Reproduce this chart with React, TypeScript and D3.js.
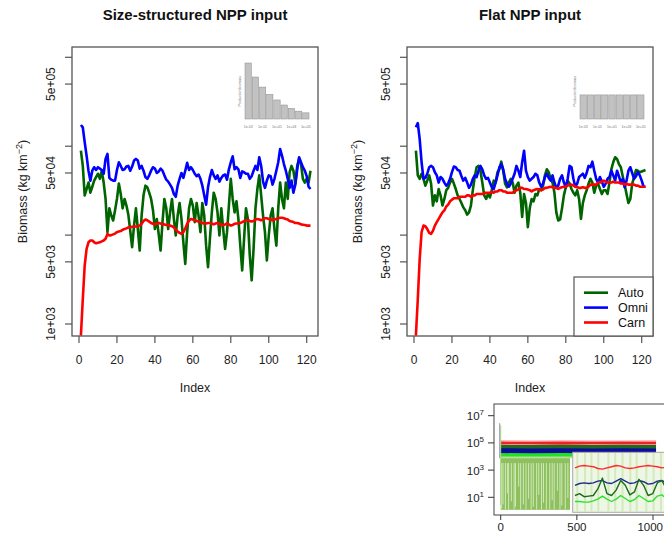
import React from "react";
import * as d3 from "d3";

const FONT = "'Liberation Sans', Arial, Helvetica, sans-serif";

// ---------- main panels ----------
const indexValues = d3.range(1, 123);

const autoSize = [89000, 60000, 28000, 33000, 39000, 30000, 35000, 41000, 45000, 49000,
  43000, 53000, 39000, 25500, 10800, 20000, 16600, 14600, 19000, 25500,
  38000, 29000, 20000, 25500, 21500, 17000, 11200, 7300, 12800, 20000,
  11700, 6700, 16600, 28000, 36000, 34500, 30000, 25500, 19000, 11700,
  15200, 10300, 6700, 14000, 25500, 20000, 11700, 18000, 25500, 15200,
  9900, 16600, 23000, 15200, 8300, 4750, 10800, 20000, 25500, 21500,
  14000, 23000, 16600, 10800, 23000, 16600, 7600, 4350, 9100, 18000,
  30000, 25500, 18000, 9900, 20000, 11700, 7000, 10800, 21500, 43000,
  25500, 18000, 24000, 15200, 7600, 4000, 9100, 20000, 15200, 5900,
  3100, 7000, 20000, 33000, 47000, 28000, 16600, 10800, 5200, 9900,
  16600, 20000, 11700, 7600, 20000, 39000, 25500, 20000, 39000, 25500,
  51000, 60000, 53000, 38000, 60000, 72000, 63000, 43000, 39000, 43000, 39000, 53000];

const omniSize = [173000, 163000, 111000, 78000, 53000, 41000, 53000, 58000, 54000, 58000,
  56000, 54000, 49000, 72000, 82000, 44000, 42000, 41000, 41000, 54000,
  66000, 60000, 54000, 55000, 59000, 60000, 53000, 59000, 69000, 72000,
  69000, 56000, 60000, 53000, 45000, 43000, 47000, 53000, 58000, 56000,
  50000, 52000, 56000, 53000, 47000, 42000, 40000, 37000, 34000, 29000,
  27000, 36000, 43000, 50000, 44000, 53000, 65000, 54000, 58000, 54000,
  49000, 46000, 48000, 43000, 36000, 28000, 22000, 34500, 45000, 54000,
  47000, 43000, 47000, 40000, 44000, 47000, 48000, 42000, 55000, 66000,
  77000, 55000, 58000, 55000, 44000, 52000, 51000, 49000, 49000, 43000,
  46000, 53000, 60000, 54000, 75000, 60000, 40000, 34000, 41000, 47000,
  46000, 37000, 43000, 53000, 66000, 93000, 78000, 63000, 53000, 43000,
  34000, 41000, 30000, 37000, 55000, 75000, 66000, 58000, 53000, 46000, 35000, 33000];

const carnSize = [740, 1900, 4550, 7000, 8300, 8700, 8700, 8300, 8100, 8200,
  8300, 8500, 8700, 9100, 10300, 9900, 10000, 10200, 10400, 10800,
  11000, 11100, 11500, 11700, 11900, 12200, 12300, 12400, 12500, 12500,
  12600, 12800, 13400, 14400, 15000, 14700, 14200, 13700, 13400, 13200,
  13500, 13700, 13500, 13200, 13200, 13000, 13000, 12800, 12600, 12200,
  11500, 11000, 10600, 10300, 10800, 11900, 13400, 14600, 15200, 15000,
  14700, 14400, 14200, 14000, 13700, 13500, 13500, 13700, 13700, 13500,
  13200, 13500, 13700, 13400, 13000, 13000, 13200, 13500, 13200, 12800,
  13000, 13400, 13500, 13500, 13700, 14000, 14400, 14700, 14700, 14400,
  14200, 14400, 15000, 15200, 15000, 14700, 15000, 15500, 15500, 15200,
  15000, 14700, 15000, 15200, 15500, 15700, 15700, 15500, 15200, 15000,
  14400, 14200, 14000, 13700, 13700, 13500, 13200, 13100, 13000, 12800, 12800, 12800];

const autoFlat = [89000, 47000, 43000, 49000, 43000, 36000, 41000, 47000, 38000, 21500,
  28000, 24000, 33000, 28000, 21500, 25500, 32000, 34000, 39000, 43000,
  38000, 33000, 28000, 25500, 23000, 20500, 19000, 17000, 18000, 21500,
  32000, 45000, 58000, 60000, 53000, 39000, 28000, 25500, 29000, 26500,
  32000, 41000, 39000, 51000, 55000, 67000, 53000, 38000, 34500, 39000,
  43000, 39000, 30000, 36000, 39000, 30000, 16000, 29000, 23000, 12300,
  20000, 25500, 24000, 29000, 28000, 33000, 32000, 36000, 47000, 55000,
  51000, 43000, 39000, 30000, 18000, 14600, 15000, 20000, 28000, 34500,
  41000, 38000, 33000, 30000, 28000, 32000, 25500, 15200, 23000, 28000,
  32000, 38000, 43000, 39000, 30000, 36000, 38000, 33000, 29000, 32000,
  32000, 29000, 39000, 55000, 66000, 75000, 72000, 63000, 58000, 46000,
  37000, 29000, 23000, 25500, 38000, 45000, 54000, 53000, 51000, 52000, 53000, 54000];

const omniFlat = [163000, 182000, 120000, 66000, 43000, 44000, 49000, 58000, 60000, 58000,
  51000, 47000, 39000, 45000, 43000, 39000, 36000, 38000, 43000, 51000,
  59000, 58000, 54000, 53000, 46000, 41000, 44000, 39000, 34000, 37000,
  43000, 47000, 45000, 53000, 60000, 55000, 47000, 43000, 44000, 39000,
  34500, 33000, 39000, 47000, 58000, 63000, 55000, 43000, 38000, 35000,
  38000, 43000, 49000, 60000, 53000, 45000, 66000, 89000, 53000, 45000,
  41000, 43000, 45000, 49000, 47000, 39000, 35000, 38000, 45000, 49000,
  44000, 41000, 47000, 39000, 34000, 36000, 43000, 47000, 39000, 34500,
  43000, 60000, 58000, 43000, 35000, 38000, 45000, 47000, 49000, 44000,
  50000, 60000, 58000, 67000, 53000, 43000, 39000, 45000, 40000, 35000,
  38000, 43000, 45000, 53000, 47000, 41000, 53000, 46000, 39000, 43000,
  34500, 41000, 53000, 58000, 50000, 43000, 46000, 51000, 47000, 41000, 35000, 35000];

const carnFlat = [740, 1900, 5400, 10800, 12800, 12600, 11700, 10600, 10300, 11200,
  12800, 14000, 15200, 16600, 18000, 19000, 21000, 22000, 24000, 25000,
  26000, 26000, 26000, 27000, 27000, 27000, 27000, 28000, 28000, 27000,
  28000, 28000, 29000, 29000, 29000, 29000, 29500, 30000, 30000, 30000,
  30500, 30000, 31000, 31000, 32000, 32000, 31000, 31000, 30000, 30000,
  30000, 30000, 31000, 32000, 32500, 34000, 34000, 33000, 33000, 32500,
  32000, 31000, 32000, 32500, 33000, 32500, 32000, 32500, 34000, 34000,
  34500, 35000, 34500, 34000, 34000, 33000, 34000, 34500, 35000, 35000,
  36000, 37000, 37000, 36000, 35000, 34500, 34000, 34000, 34500, 34000,
  34000, 35000, 37000, 37000, 37000, 37000, 39000, 39000, 40000, 41000,
  40000, 39000, 39000, 39000, 40000, 39000, 39000, 39000, 38000, 38000,
  37000, 38000, 37000, 37000, 37000, 37000, 36000, 36000, 35000, 35000, 35000, 35000];

const seriesNames = ["Auto", "Omni", "Carn"];
const seriesColors = ["#006400", "#0000ff", "#ff0000"];
const panelTitles = ["Size-structured NPP input", "Flat NPP input"];
const yTickValues = [1e3, 5e3, 1e4, 5e4, 1e5, 5e5, 1e6];
const yTickLabels = ["1e+03", "5e+03", "", "5e+04", "", "5e+05", ""];
const xTickValues = [0, 20, 40, 60, 80, 100, 120];

// NPP inset bars
const nppSizeStructured = [1.0, 0.75, 0.57, 0.44, 0.34, 0.25, 0.19, 0.14, 0.11];
const nppFlat = [0.43, 0.43, 0.43, 0.43, 0.43, 0.43, 0.43, 0.43, 0.43];
const nppTickLabels = ["1e-03", "1e-01", "1e+01", "1e+03", "1e+05"];

// ---------- long-run inset ----------
const longXTicks = [0, 500, 1000];
const longYTicks = [1e1, 1e3, 1e5, 1e7];
const longYExponents = ["1", "3", "5", "7"];
const bandTime = [0, 200, 400, 600, 800, 1020];
const carnFuzzHigh = [1.55e5, 1.5e5, 1.55e5, 1.5e5, 1.5e5, 1.55e5];
const carnBandHigh = [1.25e5, 1.2e5, 1.25e5, 1.2e5, 1.25e5, 1.2e5];
const carnBandLow = [7.5e4, 7.6e4, 7.4e4, 7.6e4, 7.5e4, 7.6e4];
const autoDarkHigh = [7.2e4, 7.0e4, 7.2e4, 7.1e4, 7.2e4, 7.0e4];
const autoDarkLow = [3.4e4, 3.5e4, 3.3e4, 3.5e4, 3.4e4, 3.5e4];
const omniBandHigh = [4.0e4, 3.9e4, 4.0e4, 3.9e4, 4.0e4, 3.9e4];
const omniBandLow = [1.8e4, 1.7e4, 1.8e4, 1.7e4, 1.8e4, 1.7e4];
const autoBrightHigh = [2.1e4, 2.0e4, 2.1e4, 2.0e4, 2.1e4, 2.0e4];
const autoBrightLow = [1.0e4, 1.0e4, 1.0e4, 1.0e4, 1.0e4, 1.0e4];
const autoPaleHigh = [1.3e4, 1.3e4, 1.3e4, 1.3e4, 1.3e4, 1.3e4];
const autoPaleLow = [7.5e3, 7.5e3, 7.5e3, 7.5e3, 7.5e3, 7.5e3];
const spikeRange = [0, 455];
const spikeTop = 9000;
const spikeFloor = 1.2;
const gapTimes = [6, 15, 31, 44, 52, 70, 88, 97, 118, 131, 149, 166, 183, 200, 214, 236, 250, 268, 281, 300, 322, 338, 351, 372, 389, 401, 424, 441];
const gapLows = [1.5, 3, 1.3, 20, 1.3, 5, 1.3, 2, 60, 1.3, 3, 1.3, 8, 1.3, 2, 1.3, 15, 1.3, 4, 1.3, 1.3, 6, 1.3, 30, 1.3, 2.5, 1.3, 9];
const startSpikeOmni = [2.8e6, 7.5e3];
const startSpikeAuto = [2.0e6, 2.7];

// zoomed sub-inset (relative biomass)
const subRed = [74, 77, 78, 77, 76, 73, 72, 74, 76, 78, 77, 74, 73, 74, 76, 77, 78, 77, 76, 74, 75, 77];
const subNavy = [45, 48, 49, 48, 49, 52, 53, 49, 48, 52, 56, 52, 48, 49, 53, 51, 47, 48, 52, 53, 49, 47];
const subDark = [28, 31, 26, 27, 28, 39, 57, 31, 28, 37, 53, 45, 29, 34, 55, 45, 28, 31, 49, 53, 39, 31];
const subLime = [18, 18, 17, 17, 19, 22, 27, 22, 18, 22, 28, 23, 18, 21, 28, 23, 18, 19, 27, 29, 23, 18];
const subStripes = [0.5, 2.2, 3.6, 5.1, 7.3, 8.8, 10.4, 12.1, 13.5, 15.6, 17.2, 18.8, 20.4];

type PanelProps = {
  ox: number;
  title: string;
  series: number[][];
  npp: number[];
  legend: boolean;
};

function Panel({ ox, title, series, npp, legend }: PanelProps) {
  const left = 72 + ox, right = 318 + ox, top = 47, bottom = 336;
  const x = d3.scaleLinear().domain([0, 120]).range([79 + ox, 306.7 + ox]);
  const y = d3.scaleLog().domain([733, 1.306e6]).range([bottom, top]);
  const line = d3.line<number>().x((_, i) => x(indexValues[i])).y((d) => y(d));
  const clipId = `clip-${ox}`;
  const bx = d3.scaleBand<number>().domain(d3.range(npp.length)).range([245 + ox, 309 + ox]).paddingInner(0.12);
  const by = d3.scaleLinear().domain([0, 1]).range([119, 63]);
  const axisColor = "#555";
  return (
    <g>
      <text x={(left + right) / 2} y={20} textAnchor="middle" fontWeight="bold" fontSize={15} fill="#111">{title}</text>
      <defs>
        <clipPath id={clipId}>
          <rect x={left} y={top} width={right - left} height={bottom - top} />
        </clipPath>
      </defs>
      {/* NPP inset */}
      <g>
        {npp.map((v, i) => (
          <rect key={i} x={bx(i)} y={by(v)} width={bx.bandwidth()} height={by(0) - by(v)} fill="#c2c2c2" stroke="#8c8c8c" strokeWidth={0.5} />
        ))}
        {nppTickLabels.map((t, i) => (
          <text key={t} x={(bx(i * 2) as number) + bx.bandwidth() / 2} y={127.5} textAnchor="middle" fontSize={3.5} fill="#777">{t}</text>
        ))}
        <text transform={`translate(${241 + ox},91) rotate(-90)`} textAnchor="middle" fontSize={3.5} fill="#777">Production/biomass</text>
      </g>
      <g clipPath={`url(#${clipId})`} fill="none" strokeWidth={2.6} strokeLinejoin="round">
        {series.map((s, k) => (
          <path key={k} d={line(s) || ""} stroke={seriesColors[k]} />
        ))}
      </g>
      <rect x={left} y={top} width={right - left} height={bottom - top} fill="none" stroke={axisColor} strokeWidth={1.3} />
      {yTickValues.map((v, i) => (
        <g key={v}>
          <line x1={left - 7} x2={left} y1={y(v)} y2={y(v)} stroke={axisColor} strokeWidth={1.2} />
          {yTickLabels[i] && (
            <text transform={`translate(${left - 17},${y(v)}) rotate(-90)`} textAnchor="middle" fontSize={12} fill="#222">{yTickLabels[i]}</text>
          )}
        </g>
      ))}
      {xTickValues.map((v) => (
        <g key={v}>
          <line x1={x(v)} x2={x(v)} y1={bottom} y2={bottom + 7} stroke={axisColor} strokeWidth={1.2} />
          <text x={x(v)} y={364} textAnchor="middle" fontSize={12} fill="#222">{v}</text>
        </g>
      ))}
      <text x={(left + right) / 2} y={392} textAnchor="middle" fontSize={12.5} fill="#222">Index</text>
      <text transform={`translate(${27 + ox},${(top + bottom) / 2}) rotate(-90)`} textAnchor="middle" fontSize={12.5} fill="#222">
        Biomass (kg km<tspan dy={-5} fontSize={9}>−2</tspan><tspan dy={5}>)</tspan>
      </text>
      {legend && (
        <g>
          <rect x={574} y={277} width={right - 574} height={bottom - 277} fill="#fff" stroke={axisColor} strokeWidth={1.2} />
          {seriesNames.map((n, k) => (
            <g key={n}>
              <line x1={584} x2={608} y1={292.7 + k * 14.9} y2={292.7 + k * 14.9} stroke={seriesColors[k]} strokeWidth={2.6} />
              <text x={618} y={297.2 + k * 14.9} fontSize={12.5} fill="#111">{n}</text>
            </g>
          ))}
        </g>
      )}
    </g>
  );
}

function LongInset() {
  const left = 494, top = 404, bottom = 515, right = 700;
  const bx = d3.scaleLinear().domain([0, 1000]).range([500.7, 653]);
  const by = d3.scaleLog().domain([10, 1e7]).range([497.3, 415.7]);
  const band = (lo: number[], hi: number[]) =>
    d3.area<number>().x((t) => bx(t)).y0((_, i) => by(lo[i])).y1((_, i) => by(hi[i]))(bandTime) || "";
  const sx = d3.scaleLinear().domain([0, 21]).range([575, 671]);
  const sy = d3.scaleLinear().domain([0, 100]).range([512.3, 452.3]);
  const sLine = d3.line<number>().x((_, i) => sx(i)).y((d) => sy(d));
  return (
    <g>
      <defs>
        <clipPath id="longclip">
          <rect x={left} y={top} width={right - left} height={bottom - top} />
        </clipPath>
      </defs>
      <g clipPath="url(#longclip)">
        <rect x={bx(spikeRange[0])} y={by(spikeTop)} width={bx(spikeRange[1]) - bx(spikeRange[0])} height={by(spikeFloor) - by(spikeTop)} fill="#8fc060" />
        {gapTimes.map((t, i) => (
          <line key={t} x1={bx(t)} x2={bx(t)} y1={by(spikeTop) + 6} y2={by(gapLows[i])} stroke="#cfe8b8" strokeWidth={1} />
        ))}
        <path d={band(autoPaleLow, autoPaleHigh)} fill="#b9e09a" />
        <path d={band(autoBrightLow, autoBrightHigh)} fill="#22e022" />
        <path d={band(autoDarkLow, autoDarkHigh)} fill="#1e6a1e" />
        <path d={band(omniBandLow, omniBandHigh)} fill="#0c0c9c" />
        <path d={band(carnBandHigh, carnFuzzHigh)} fill="#ffa0a0" />
        <path d={band(carnBandLow, carnBandHigh)} fill="#ee2222" />
        <line x1={bx(0) - 1} x2={bx(0) - 1} y1={by(startSpikeOmni[0])} y2={by(startSpikeOmni[1])} stroke="#9a8fc0" strokeWidth={1} />
        <line x1={bx(0)} x2={bx(0)} y1={by(startSpikeAuto[0])} y2={by(startSpikeAuto[1])} stroke="#9fd57a" strokeWidth={1} />
        {/* zoomed sub-inset */}
        <rect x={572.7} y={452.3} width={110} height={60} fill="#eef7e6" stroke="#a8a8a8" strokeWidth={1} />
        {subStripes.map((s) => (
          <line key={s} x1={sx(s)} x2={sx(s)} y1={453} y2={512} stroke="#d2eabc" strokeWidth={2} />
        ))}
        <g fill="none" strokeWidth={1.4} strokeLinejoin="round">
          <path d={sLine(subRed) || ""} stroke="#ff2a2a" />
          <path d={sLine(subNavy) || ""} stroke="#1c2a8c" />
          <path d={sLine(subDark) || ""} stroke="#1a6b1a" />
          <path d={sLine(subLime) || ""} stroke="#2ee02e" />
        </g>
      </g>
      <rect x={left} y={top} width={right - left} height={bottom - top} fill="none" stroke="#444" strokeWidth={1} />
      {longYTicks.map((v, i) => (
        <g key={v}>
          <line x1={left - 6} x2={left} y1={by(v)} y2={by(v)} stroke="#333" strokeWidth={1} />
          <text x={484} y={by(v) + 4.5} textAnchor="end" fontSize={11.5} fill="#222">
            10<tspan dy={-5} fontSize={8}>{longYExponents[i]}</tspan>
          </text>
        </g>
      ))}
      {longXTicks.map((v) => {
        const px = bx(v);
        const nearEdge = px + 14 > 664;
        return (
          <g key={v}>
            <line x1={px} x2={px} y1={bottom} y2={bottom + 5} stroke="#333" strokeWidth={1} />
            <text x={nearEdge ? 663 : px} y={531} textAnchor={nearEdge ? "end" : "middle"} fontSize={11.5} fill="#222">{v}</text>
          </g>
        );
      })}
    </g>
  );
}

export default function App() {
  return (
    <svg width={664} height={534} style={{ position: "absolute", left: 0, top: 0, background: "#fff" }} fontFamily={FONT}>
      <rect x={0} y={0} width={664} height={534} fill="#fff" />
      <Panel ox={0} title={panelTitles[0]} series={[autoSize, omniSize, carnSize]} npp={nppSizeStructured} legend={false} />
      <Panel ox={335} title={panelTitles[1]} series={[autoFlat, omniFlat, carnFlat]} npp={nppFlat} legend={true} />
      <LongInset />
    </svg>
  );
}
